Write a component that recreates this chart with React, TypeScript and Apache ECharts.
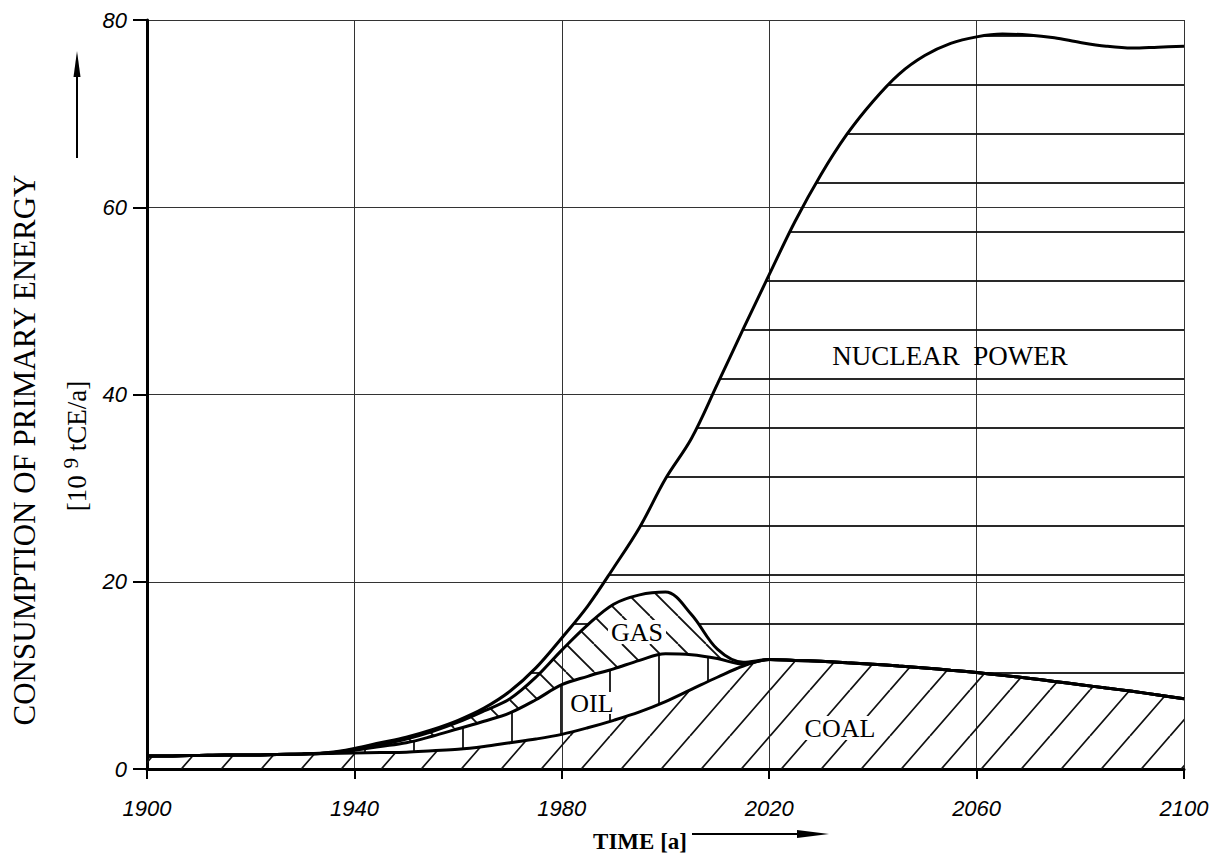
import React, { useEffect, useRef } from "react";
import * as echarts from "echarts";

const years = [
  "1900","1905","1910","1915","1920","1925","1930","1935","1940","1945",
  "1950","1955","1960","1965","1970","1975","1980","1985","1990","1995",
  "2000","2005","2010","2015","2020","2025","2030","2035","2040","2045",
  "2050","2055","2060","2065","2070","2075","2080","2085","2090","2095","2100",
];

// contributions (10^9 tCE/a), stacked from bottom to top
const coal = [
  1.4,1.4,1.45,1.5,1.5,1.55,1.6,1.65,1.7,1.75,
  1.8,1.95,2.1,2.4,2.8,3.2,3.7,4.4,5.2,6.1,
  7.2,8.5,9.8,11.0,11.7,11.6,11.5,11.35,11.2,11.0,
  10.8,10.55,10.3,10.0,9.7,9.35,9.0,8.65,8.3,7.9,7.5,
];
const oil = [
  0,0,0,0,0,0,0,0.05,0.3,0.65,
  1.0,1.55,2.2,2.7,3.2,4.2,5.3,5.5,5.5,5.5,
  5.1,3.7,2.0,0.2,0,0,0,0,0,0,
  0,0,0,0,0,0,0,0,0,0,0,
];
const gas = [
  0,0,0,0,0,0,0,0,0.1,0.2,
  0.4,0.5,0.7,1.1,1.5,2.4,3.7,5.5,6.9,7.0,
  6.6,4.3,1.0,0.2,0,0,0,0,0,0,
  0,0,0,0,0,0,0,0,0,0,0,
];
const nuclear = [
  0,0,0,0,0,0,0,0.05,0.1,0.2,
  0.2,0.2,0.2,0.3,0.8,1.0,1.3,2.0,3.9,7.2,
  12.1,18.8,28.3,35.6,41.1,46.9,52.0,56.45,60.1,63.2,
  65.4,66.95,67.9,68.5,68.7,68.75,68.6,68.55,68.7,69.2,69.7,
];

const xTickLabels = ["1900", "1940", "1980", "2020", "2060", "2100"];
const yTicks = [0, 20, 40, 60, 80];

const SERIF = '"Liberation Serif", "Times New Roman", serif';
const SANS = '"Liberation Sans", Arial, sans-serif';

function makePattern(kind: string) {
  const c = document.createElement("canvas");
  let w = 40, h = 46;
  if (kind === "coal") { w = 40; h = 46; }
  if (kind === "gas") { w = 28; h = 28; }
  if (kind === "oil") { w = 49; h = 4; }
  if (kind === "nuclear") { w = 4; h = 49; }
  c.width = w; c.height = h;
  const ctx = c.getContext("2d")!;
  ctx.strokeStyle = "#111";
  ctx.lineWidth = 1.8;
  ctx.beginPath();
  if (kind === "coal") {
    for (let k = -2; k <= 3; k++) {
      const cx = 10 + 40 * k;
      ctx.moveTo(cx, 0);
      ctx.lineTo(cx - 40, 46);
    }
  } else if (kind === "gas") {
    for (let k = -2; k <= 3; k++) {
      const cx = 6 + 28 * k;
      ctx.moveTo(cx, 0);
      ctx.lineTo(cx + 28, 28);
    }
  } else if (kind === "oil") {
    ctx.moveTo(22, 0);
    ctx.lineTo(22, h);
  } else {
    ctx.moveTo(0, 36);
    ctx.lineTo(w, 36);
  }
  ctx.stroke();
  return { image: c, repeat: "repeat", imageWidth: w, imageHeight: h };
}

function label(text: string, x: number, y: number, w: number, h: number, size: number) {
  return {
    type: "group",
    z: 100,
    children: [
      { type: "rect", z: 100, shape: { x: x - w / 2, y: y - h / 2, width: w, height: h }, style: { fill: "#fff" } },
      {
        type: "text", z: 101, x, y,
        style: { text, font: `${size}px ${SERIF}`, fill: "#000", align: "center", verticalAlign: "middle" },
      },
    ],
  };
}

export default function App() {
  const ref = useRef<HTMLDivElement>(null);
  useEffect(() => {
    if (!ref.current) return;
    const chart = echarts.init(ref.current, null, { renderer: "svg" });
    const lineStyle = { color: "#000", width: 3 };
    const mk = (name: string, data: number[], kind: string) => ({
      name,
      type: "line",
      stack: "energy",
      data,
      smooth: 0.35,
      symbol: "none",
      lineStyle,
      areaStyle: { color: makePattern(kind), opacity: 1 },
      emphasis: { disabled: true },
    });
    chart.setOption({
      animation: false,
      backgroundColor: "#fff",
      grid: { left: 147, right: 33, top: 20, bottom: 88 },
      xAxis: {
        type: "category",
        data: years,
        boundaryGap: false,
        axisLine: { lineStyle: { color: "#000", width: 3 } },
        axisTick: { interval: 7, length: 10, lineStyle: { color: "#000", width: 2 } },
        axisLabel: {
          interval: 7,
          margin: 28,
          fontSize: 22,
          fontStyle: "italic",
          fontFamily: SANS,
          color: "#000",
          formatter: (v: string) => (xTickLabels.includes(v) ? v : ""),
        },
        splitLine: { show: true, interval: 7, lineStyle: { color: "#333", width: 1 } },
      },
      yAxis: {
        type: "value",
        min: yTicks[0],
        max: yTicks[yTicks.length - 1],
        interval: 20,
        axisLine: { show: true, lineStyle: { color: "#000", width: 3 } },
        axisTick: { show: true, length: 14, lineStyle: { color: "#000", width: 2 } },
        axisLabel: { margin: 20, fontSize: 22, fontStyle: "italic", fontFamily: SANS, color: "#000" },
        splitLine: { show: true, lineStyle: { color: "#333", width: 1 } },
      },
      series: [
        mk("COAL", coal, "coal"),
        mk("OIL", oil, "oil"),
        mk("GAS", gas, "gas"),
        mk("NUCLEAR POWER", nuclear, "nuclear"),
      ],
      graphic: [
        {
          type: "text", x: 24, y: 450, rotation: Math.PI / 2,
          style: { text: "CONSUMPTION OF PRIMARY ENERGY", font: `31px ${SERIF}`, fill: "#000", align: "center", verticalAlign: "middle" },
        },
        {
          type: "text", x: 75, y: 446, rotation: Math.PI / 2,
          style: {
            text: "{a|[10 }{s|9}{a| tCE/a]}",
            align: "center", verticalAlign: "middle",
            rich: {
              a: { fontSize: 27, fontFamily: SERIF, fill: "#000", lineHeight: 30, verticalAlign: "bottom" },
              s: { fontSize: 21, fontFamily: SERIF, fill: "#000", lineHeight: 30, verticalAlign: "top" },
            },
          },
        },
        { type: "line", shape: { x1: 77, y1: 158, x2: 77, y2: 70 }, style: { stroke: "#000", lineWidth: 2 } },
        { type: "polygon", shape: { points: [[77, 51], [73.5, 77], [80.5, 77]] }, style: { fill: "#000" } },
        {
          type: "text", x: 640, y: 841,
          style: { text: "TIME [a]", font: `bold 23px ${SERIF}`, fill: "#000", align: "center", verticalAlign: "middle" },
        },
        { type: "line", shape: { x1: 692, y1: 834, x2: 805, y2: 834 }, style: { stroke: "#000", lineWidth: 2 } },
        { type: "polygon", shape: { points: [[829, 834], [797, 830], [797, 838]] }, style: { fill: "#000" } },
        {
          type: "text", x: 950, y: 356, z: 100,
          style: { text: "NUCLEAR  POWER", font: `27px ${SERIF}`, fill: "#000", align: "center", verticalAlign: "middle" },
        },
        label("GAS", 637, 632, 58, 24, 26),
        label("OIL", 592, 703, 52, 22, 26),
        label("COAL", 840, 728, 80, 24, 26),
      ],
    });
    return () => chart.dispose();
  }, []);
  return (
    <div
      ref={ref}
      style={{ position: "fixed", left: 0, top: 0, width: 1217, height: 857, background: "#fff" }}
    />
  );
}
